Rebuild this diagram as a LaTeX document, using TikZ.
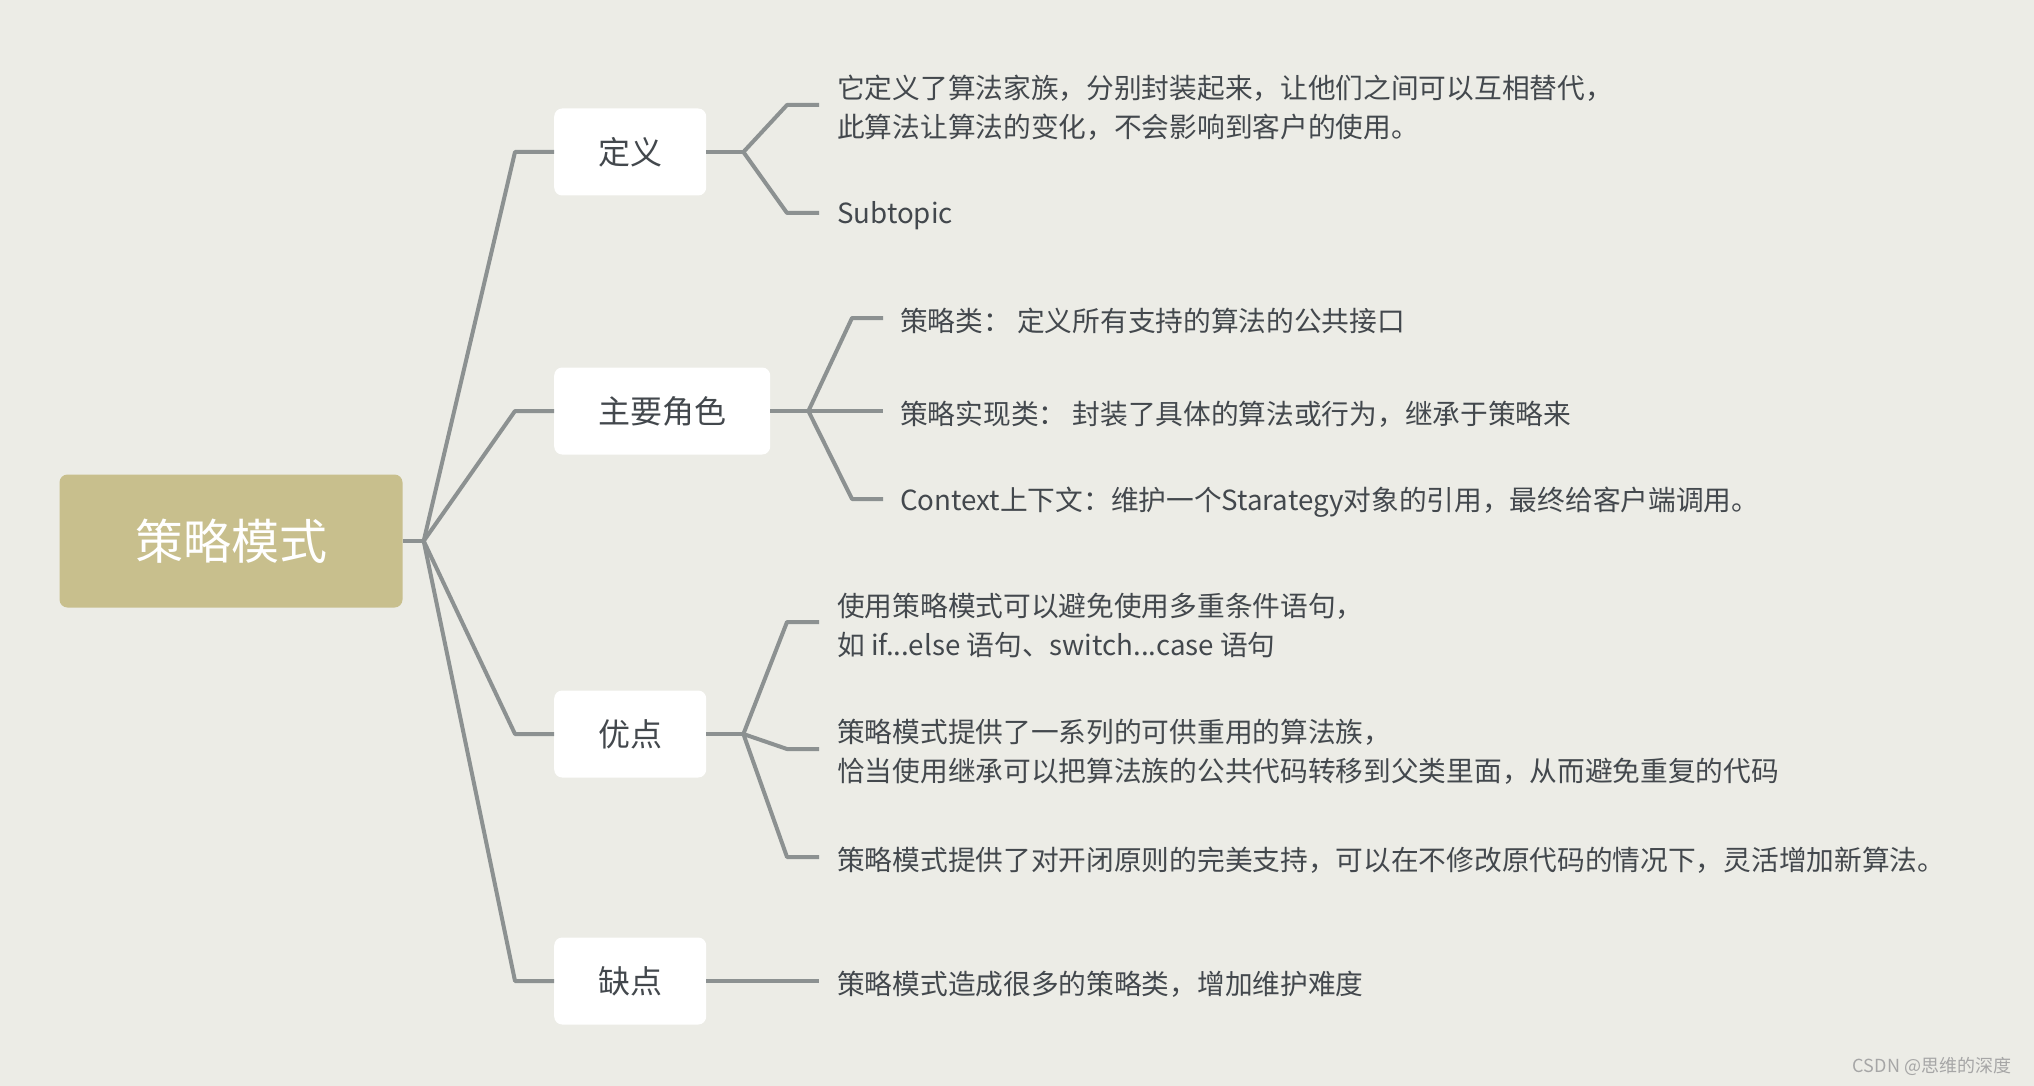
\documentclass[tikz,border=0pt]{standalone}
\usepackage{fontspec}
\newfontfamily\cjk{Noto Sans CJK SC}
\definecolor{bgcol}{HTML}{ECECE6}
\definecolor{rootcol}{HTML}{C8BF8D}
\definecolor{linecol}{HTML}{8C9191}
\definecolor{textcol}{HTML}{43484D}
\tikzset{
  link/.style={draw=linecol, line width=4pt, line join=round},
  rootbox/.style={fill=rootcol, rounded corners=8pt, minimum width=343pt, minimum height=133pt,
    text=white, font=\cjk\fontsize{48}{56}\selectfont},
  topic/.style={fill=white, rounded corners=8pt, minimum height=87pt, inner xsep=44pt,
    anchor=west, text=textcol, font=\cjk\fontsize{32}{38}\selectfont},
  leaf/.style={anchor=west, inner sep=0pt, align=left, text=textcol,
    font=\cjk\fontsize{27.7}{39}\selectfont},
}
\begin{document}
\begin{tikzpicture}[x=1pt,y=-1pt]
  % background and page size
  \fill[bgcol] (0,0) rectangle (2034,1086);
  \useasboundingbox (0,0) rectangle (2034,1086);

  % root and main topics
  \node[rootbox] (root) at (231,541) {策略模式};
  \node[topic] (def) at (554,152) {定义};
  \node[topic] (role) at (554,411) {主要角色};
  \node[topic] (pro) at (554,734) {优点};
  \node[topic] (con) at (554,981) {缺点};

  % leaves (text sits 3pt below its connector)
  \node[leaf] (def1) at (837,108) {它定义了算法家族，分别封装起来，让他们之间可以互相替代，\\此算法让算法的变化，不会影响到客户的使用。};
  \node[leaf] (def2) at (837,216) {Subtopic};
  \node[leaf] (role1) at (900,321) {策略类： 定义所有支持的算法的公共接口};
  \node[leaf] (role2) at (900,414) {策略实现类： 封装了具体的算法或行为，继承于策略来};
  \node[leaf] (role3) at (900,502) {Context上下文：维护一个Starategy对象的引用，最终给客户端调用。};
  \node[leaf] (pro1) at (837,625) {使用策略模式可以避免使用多重条件语句，\\如 if...else 语句、switch...case 语句};
  \node[leaf] (pro2) at (837,752) {策略模式提供了一系列的可供重用的算法族，\\恰当使用继承可以把算法族的公共代码转移到父类里面，从而避免重复的代码};
  \node[leaf] (pro3) at (837,860) {策略模式提供了对开闭原则的完美支持，可以在不修改原代码的情况下，灵活增加新算法。};
  \node[leaf] (con1) at (837,984) {策略模式造成很多的策略类，增加维护难度};

  % connectors
  \coordinate (hub) at ([xshift=21pt]root.east);
  \draw[link] (root.east) -- (hub);
  \foreach \t in {def,role,pro,con}
    \draw[link] (hub) -- ([xshift=-39pt]\t.west) -- (\t.west);

  \coordinate (defhub) at ([xshift=37pt]def.east);
  \draw[link] (def.east) -- (defhub);
  \foreach \l in {def1,def2}
    \draw[link] (defhub) -- ([xshift=-50pt,yshift=3pt]\l.west) -- ([xshift=-18pt,yshift=3pt]\l.west);

  \coordinate (rolehub) at ([xshift=38pt]role.east);
  \draw[link] (role.east) -- (rolehub);
  \foreach \l in {role1,role2,role3}
    \draw[link] (rolehub) -- ([xshift=-48pt,yshift=3pt]\l.west) -- ([xshift=-17pt,yshift=3pt]\l.west);

  \coordinate (prohub) at ([xshift=37pt]pro.east);
  \draw[link] (pro.east) -- (prohub);
  \foreach \l in {pro1,pro2,pro3}
    \draw[link] (prohub) -- ([xshift=-50pt,yshift=3pt]\l.west) -- ([xshift=-18pt,yshift=3pt]\l.west);

  \draw[link] (con.east) -- ([xshift=-18pt,yshift=3pt]con1.west);

  % watermark
  \node[text=black!35, font=\cjk\fontsize{18}{20}\selectfont] (mark) at (1932,1066) {CSDN @思维的深度};
\end{tikzpicture}
\end{document}
